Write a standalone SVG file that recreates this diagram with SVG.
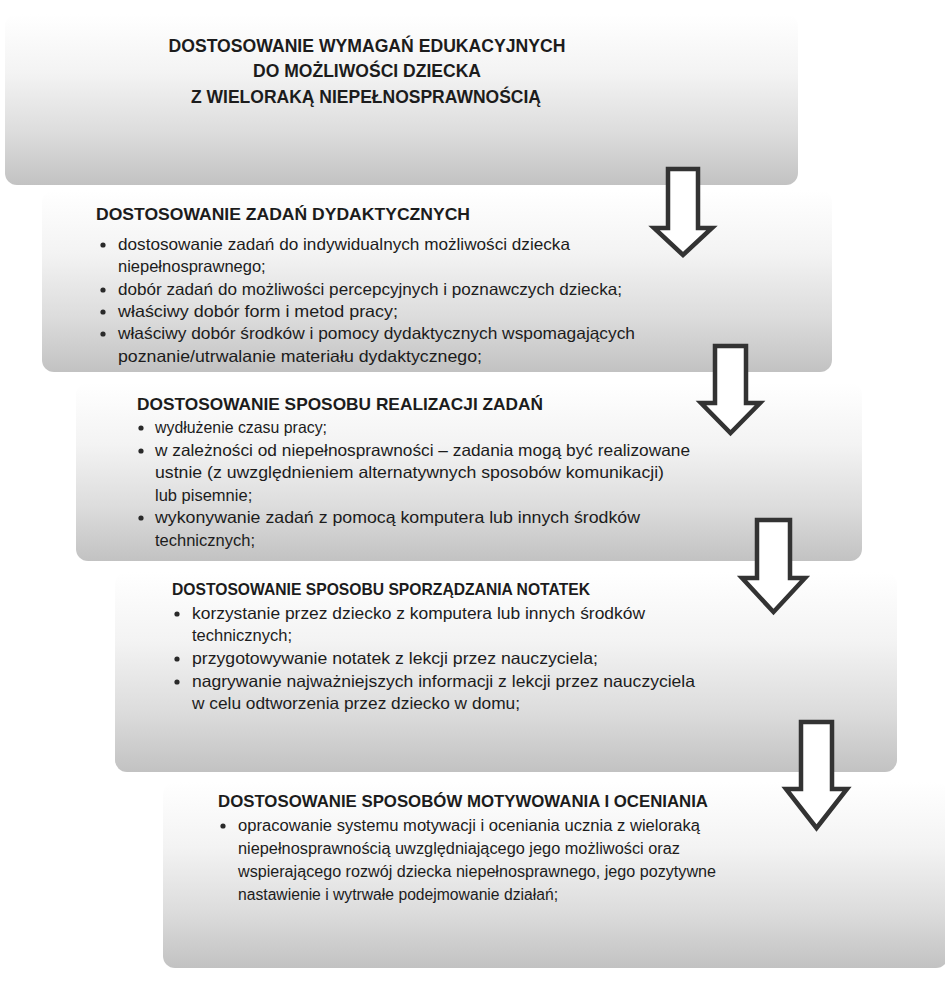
<svg xmlns="http://www.w3.org/2000/svg" width="945" height="987" viewBox="0 0 945 987">
<defs>
<linearGradient id="g" x1="0" y1="0" x2="0" y2="1">
<stop offset="0" stop-color="#ffffff"/>
<stop offset="0.35" stop-color="#f3f3f3"/>
<stop offset="0.7" stop-color="#dcdcdc"/>
<stop offset="1" stop-color="#c2c2c2"/>
</linearGradient>
</defs>
<style>
.box{fill:url(#g);}
.t{font-family:"Liberation Sans",Arial,sans-serif;fill:#1c1c1c;}
.title{font-size:17.5px;font-weight:bold;text-anchor:middle;}
.h{font-size:17px;font-weight:bold;}
.b{font-size:16.5px;}
.s{font-size:15.8px;}
.dot{fill:#2a2a2a;}
.arrow{fill:#ffffff;stroke:#333333;stroke-width:4.5;stroke-linejoin:miter;}
</style>
<rect width="945" height="987" fill="#ffffff"/>

<g id="node1">
<rect class="box" x="5" y="14" width="793" height="171" rx="12"/>
<text class="t title" x="367" y="52" textLength="397" lengthAdjust="spacingAndGlyphs">DOSTOSOWANIE WYMAGAŃ EDUKACYJNYCH</text>
<text class="t title" x="367" y="77" textLength="228" lengthAdjust="spacingAndGlyphs">DO MOŻLIWOŚCI DZIECKA</text>
<text class="t title" x="366" y="103" textLength="350" lengthAdjust="spacingAndGlyphs">Z WIELORAKĄ NIEPEŁNOSPRAWNOŚCIĄ</text>
</g>

<g id="node2">
<rect class="box" x="42" y="190" width="790" height="182" rx="12"/>
<text class="t h" x="96" y="220" textLength="374" lengthAdjust="spacingAndGlyphs">DOSTOSOWANIE ZADAŃ DYDAKTYCZNYCH</text>
<circle class="dot" cx="103" cy="245" r="2.6"/>
<text class="t b" x="118" y="250" textLength="452" lengthAdjust="spacingAndGlyphs">dostosowanie zadań do indywidualnych możliwości dziecka</text>
<text class="t b" x="118" y="272">niepełnosprawnego;</text>
<circle class="dot" cx="103" cy="290" r="2.6"/>
<text class="t b" x="118" y="295" textLength="504" lengthAdjust="spacingAndGlyphs">dobór zadań do możliwości percepcyjnych i poznawczych dziecka;</text>
<circle class="dot" cx="103" cy="312" r="2.6"/>
<text class="t b" x="118" y="317" textLength="280" lengthAdjust="spacingAndGlyphs">właściwy dobór form i metod pracy;</text>
<circle class="dot" cx="103" cy="334" r="2.6"/>
<text class="t b" x="118" y="339" textLength="517" lengthAdjust="spacingAndGlyphs">właściwy dobór środków i pomocy dydaktycznych wspomagających</text>
<text class="t b" x="118" y="362" textLength="364" lengthAdjust="spacingAndGlyphs">poznanie/utrwalanie materiału dydaktycznego;</text>
</g>

<g id="node3">
<rect class="box" x="76" y="383" width="786" height="178" rx="12"/>
<text class="t h" x="137" y="410" textLength="406" lengthAdjust="spacingAndGlyphs">DOSTOSOWANIE SPOSOBU REALIZACJI ZADAŃ</text>
<circle class="dot" cx="141" cy="428" r="2.6"/>
<text class="t b" x="155" y="433" textLength="172" lengthAdjust="spacingAndGlyphs">wydłużenie czasu pracy;</text>
<circle class="dot" cx="141" cy="451" r="2.6"/>
<text class="t b" x="155" y="456" textLength="535" lengthAdjust="spacingAndGlyphs">w zależności od niepełnosprawności – zadania mogą być realizowane</text>
<text class="t b" x="155" y="478" textLength="509" lengthAdjust="spacingAndGlyphs">ustnie (z uwzględnieniem alternatywnych sposobów komunikacji)</text>
<text class="t b" x="155" y="501">lub pisemnie;</text>
<circle class="dot" cx="141" cy="518" r="2.6"/>
<text class="t b" x="155" y="523" textLength="485" lengthAdjust="spacingAndGlyphs">wykonywanie zadań z pomocą komputera lub innych środków</text>
<text class="t b" x="155" y="546">technicznych;</text>
</g>

<g id="node4">
<rect class="box" x="115" y="572" width="782" height="200" rx="12"/>
<text class="t h" x="172" y="595" textLength="418" lengthAdjust="spacingAndGlyphs">DOSTOSOWANIE SPOSOBU SPORZĄDZANIA NOTATEK</text>
<circle class="dot" cx="177" cy="614" r="2.6"/>
<text class="t b" x="192" y="619" textLength="453" lengthAdjust="spacingAndGlyphs">korzystanie przez dziecko z komputera lub innych środków</text>
<text class="t b" x="192" y="641">technicznych;</text>
<circle class="dot" cx="177" cy="659" r="2.6"/>
<text class="t b" x="192" y="664" textLength="406" lengthAdjust="spacingAndGlyphs">przygotowywanie notatek z lekcji przez nauczyciela;</text>
<circle class="dot" cx="177" cy="682" r="2.6"/>
<text class="t b" x="192" y="687" textLength="503" lengthAdjust="spacingAndGlyphs">nagrywanie najważniejszych informacji z lekcji przez nauczyciela</text>
<text class="t b" x="192" y="709" textLength="328" lengthAdjust="spacingAndGlyphs">w celu odtworzenia przez dziecko w domu;</text>
</g>

<g id="node5">
<rect class="box" x="163" y="782" width="785" height="186" rx="12"/>
<text class="t h" x="218" y="807" textLength="490" lengthAdjust="spacingAndGlyphs">DOSTOSOWANIE SPOSOBÓW MOTYWOWANIA I OCENIANIA</text>
<circle class="dot" cx="223" cy="826" r="2.6"/>
<text class="t s" x="238" y="831" textLength="462" lengthAdjust="spacingAndGlyphs">opracowanie systemu motywacji i oceniania ucznia z wieloraką</text>
<text class="t s" x="238" y="854" textLength="442" lengthAdjust="spacingAndGlyphs">niepełnosprawnością uwzględniającego jego możliwości oraz</text>
<text class="t s" x="238" y="877" textLength="478" lengthAdjust="spacingAndGlyphs">wspierającego rozwój dziecka niepełnosprawnego, jego pozytywne</text>
<text class="t s" x="238" y="900" textLength="320" lengthAdjust="spacingAndGlyphs">nastawienie i wytrwałe podejmowanie działań;</text>
</g>

<g id="connectors">
<path class="arrow" d="M668,169 H698 V228 H712 L683,255 L654,228 H668 Z"/>
<path class="arrow" d="M715,346 H746 V403 H760 L730.5,433 L701,403 H715 Z"/>
<path class="arrow" d="M757,520 H790 V578 H805 L773.5,612 L742,578 H757 Z"/>
<path class="arrow" d="M801,722 H832 V789 H847 L816.5,828 L786,789 H801 Z"/>
</g>
</svg>
